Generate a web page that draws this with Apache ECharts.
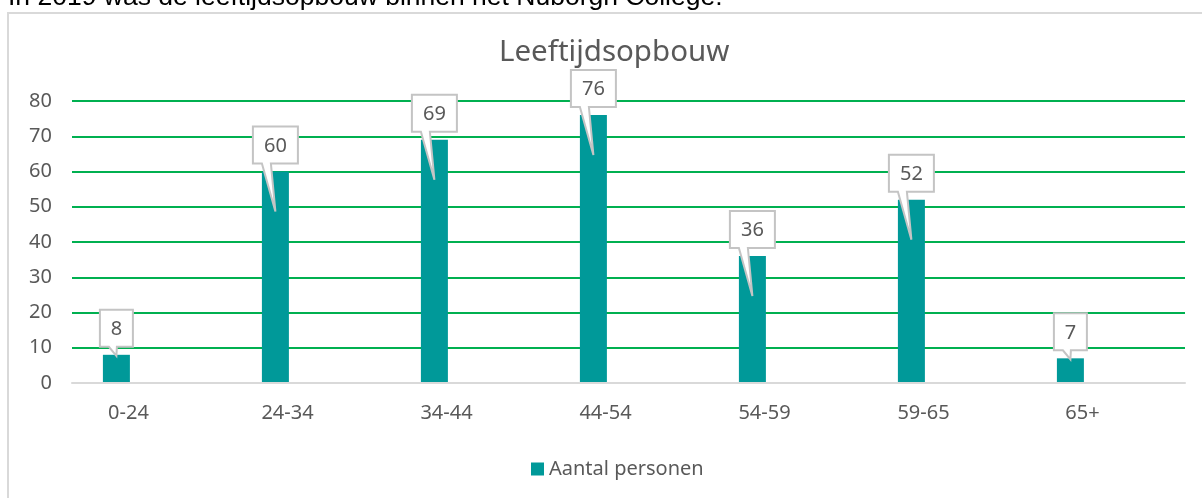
<!DOCTYPE html>
<html><head><meta charset="utf-8">
<script src="https://cdn.jsdelivr.net/npm/echarts/dist/echarts.min.js"></script>
<style>html,body{margin:0;padding:0;background:#fff;overflow:hidden}#c{width:1202px;height:498px;}</style>
</head><body><div id="c"></div>
<script>
const introText = 'In 2019 was de leeftijdsopbouw binnen het Nuborgh College.';
const chartTitle = 'Leeftijdsopbouw';
const seriesName = 'Aantal personen';
const categories = ['0-24', '24-34', '34-44', '44-54', '54-59', '59-65', '65+'];
const personen = [8, 60, 69, 76, 36, 52, 7];

const TEAL = '#009999';
const GREEN = '#00B050';
const GREY_TEXT = '#595959';
const FONT = '"Noto Sans", "Open Sans", sans-serif';
const BAR_W = 27, BAR_GAP = 1.6;
const BAR_SHIFT = -(BAR_W * 2 + BAR_W * BAR_GAP) / 2 + BAR_W / 2;

const chart = echarts.init(document.getElementById('c'), null, {renderer: 'canvas'});

function renderCallout(params, api) {
  const i = api.value(0), v = api.value(1);
  const p = api.coord([i, v]);
  const cx = p[0] + BAR_SHIFT;
  const txt = String(v);
  const w = txt.length > 1 ? 45 : 33;
  const h = 37;
  const bottom = p[1] - 8;
  const top = bottom - h;
  const left = cx - w / 2, right = cx + w / 2;
  const tall = v > 15;
  const tipY = tall ? p[1] + 40 : p[1] + 1;
  const baseL = left + 9, baseR = left + (tall ? 18 : 17);
  const tipX = cx;
  return {
    type: 'group',
    children: [
      {type: 'polygon',
       shape: {points: [[left, top], [right, top], [right, bottom], [baseR, bottom], [tipX, tipY], [baseL, bottom], [left, bottom]]},
       style: {fill: '#ffffff', stroke: '#c4c4c4', lineWidth: 2, lineJoin: 'miter'}},
      {type: 'text',
       style: {text: txt, x: cx, y: (top + bottom) / 2 + 1, align: 'center', verticalAlign: 'middle',
               font: '20px ' + FONT, fill: GREY_TEXT}}
    ]
  };
}

const option = {
  animation: false,
  backgroundColor: '#ffffff',
  textStyle: {fontFamily: FONT},
  title: {
    text: chartTitle,
    left: 494, top: 33,
    textStyle: {fontSize: 29.5, fontWeight: 'normal', color: GREY_TEXT, fontFamily: FONT}
  },
  legend: {
    data: [seriesName],
    left: 526, top: 454,
    icon: 'rect', itemWidth: 13, itemHeight: 13, itemGap: 6,
    textStyle: {fontSize: 20, color: GREY_TEXT, fontFamily: FONT}
  },
  grid: {left: 72, right: 17, top: 101, bottom: 115, containLabel: false},
  xAxis: {
    type: 'category',
    data: categories,
    z: 3,
    axisLine: {show: true, lineStyle: {color: '#d9d9d9', width: 2}},
    axisTick: {show: false},
    axisLabel: {fontSize: 20, color: GREY_TEXT, margin: 20, padding: [0, 46, 0, 0], fontFamily: FONT}
  },
  yAxis: {
    type: 'value',
    min: 0, max: 80, interval: 10,
    z: 1,
    axisLine: {show: false},
    axisTick: {show: false},
    axisLabel: {fontSize: 20, color: GREY_TEXT, margin: 20, fontFamily: FONT},
    splitLine: {show: true, lineStyle: {color: GREEN, width: 2}}
  },
  series: [
    {
      name: seriesName,
      type: 'bar',
      data: personen,
      barWidth: BAR_W,
      barGap: (BAR_GAP * 100) + '%',
      itemStyle: {color: TEAL},
      z: 2
    },
    {
      name: '_spacer',
      type: 'bar',
      data: personen.map(() => '-'),
      barWidth: BAR_W,
      itemStyle: {color: 'transparent'},
      silent: true
    },
    {
      name: '_labels',
      type: 'custom',
      coordinateSystem: 'cartesian2d',
      data: personen.map((v, i) => [i, v]),
      encode: {x: 0, y: 1},
      renderItem: renderCallout,
      z: 5,
      silent: true
    }
  ],
  graphic: [
    {type: 'rect', z: -1, shape: {x: 8, y: 13, width: 1210, height: 500},
     style: {fill: 'none', stroke: '#d9d9d9', lineWidth: 2}, silent: true},
    {type: 'text', left: 8, top: -16,
     style: {text: introText, font: '26.5px "Liberation Sans", Arial, sans-serif', fill: '#000000'}, silent: true}
  ]
};
chart.setOption(option);
</script>
</body></html>
